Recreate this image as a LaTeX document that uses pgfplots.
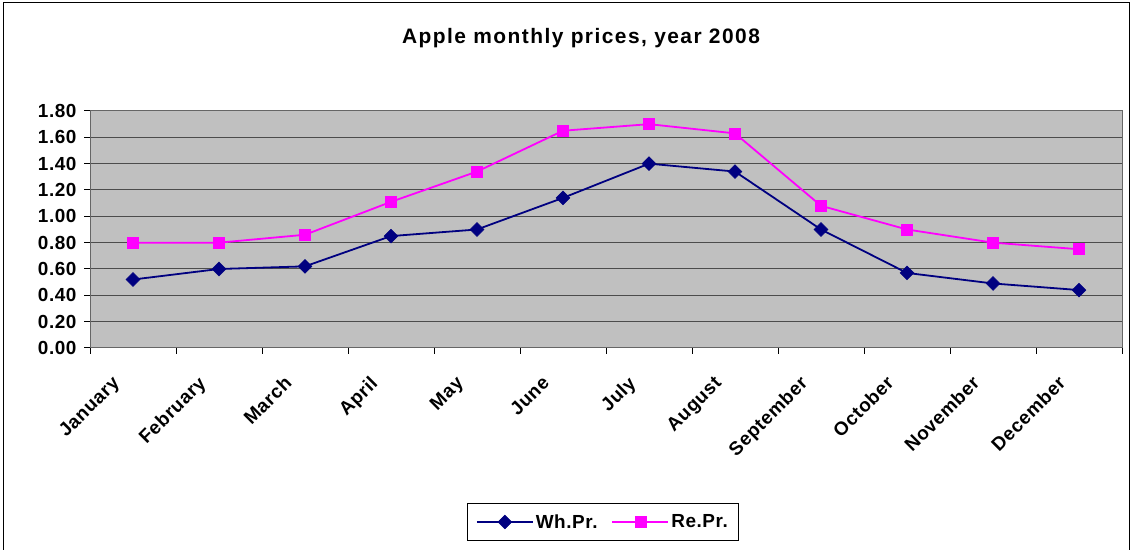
\documentclass[border=0pt]{standalone}
\usepackage{pgfplots}
\pgfplotsset{compat=1.18}
\usepackage{fontspec}
\setmainfont{Liberation Sans}
\definecolor{navyc}{HTML}{000080}
\definecolor{magc}{HTML}{FF00FF}
\definecolor{plotbg}{HTML}{C0C0C0}
\newcommand{\tfont}{\bfseries\fontsize{21}{24}\selectfont\addfontfeature{LetterSpace=7}}
\newcommand{\lfont}{\bfseries\fontsize{19}{22}\selectfont\addfontfeature{LetterSpace=3}}
\begin{document}
\begin{tikzpicture}[x=1bp,y=1bp]
\useasboundingbox (0,0) rectangle (1132,550);
\draw[black, line width=1bp] (3,-10) -- (3,547) -- (1129,547) -- (1129,-10);
\node[font=\tfont] at (581,512) {Apple monthly prices, year 2008};
\begin{axis}[
  at={(90bp,202bp)}, anchor=south west,
  scale only axis, width=1032bp, height=237bp,
  xmin=-0.5, xmax=11.5, ymin=0, ymax=1.8,
  axis background/.style={fill=plotbg},
  axis line style={draw=gray!80!black, line width=1bp},
  xtick={-0.5,0.5,...,11.5}, xticklabels={},
  extra x ticks={0,1,2,3,4,5,6,7,8,9,10,11},
  extra x tick labels={January,February,March,April,May,June,July,August,September,October,November,December},
  extra x tick style={major tick length=0pt, tick style={draw=none}},
  x tick label style={xshift=-22bp, yshift=-22bp, rotate=45, anchor=north east, font=\lfont},
  ytick={0,0.2,...,1.8},
  ymajorgrids, grid style={black!70, line width=1bp},
  y tick label style={font=\lfont, /pgf/number format/.cd, fixed, fixed zerofill, precision=2, assume math mode=true},
  yticklabel shift=4bp,
  tick align=outside, major tick length=6bp,
  tick style={black, line width=1bp},
  xtick pos=bottom, ytick pos=left,
  legend style={at={(0.497,-0.734)}, anchor=center, legend columns=2, draw=black, line width=0.8bp,
    font=\lfont, inner xsep=9bp, inner ysep=9bp,
    /tikz/every even column/.append style={column sep=12bp}},
  legend image code/.code={
    \draw[#1, mark repeat=2, mark phase=2] plot coordinates {(0bp,0bp) (28bp,0bp) (56bp,0bp)};
  },
]
\addplot[navyc, line width=1.8bp, mark=square*, mark size=4.9bp, mark options={fill=navyc, rotate=45, line width=0.5bp}] coordinates {
(0,0.52) (1,0.60) (2,0.62) (3,0.85) (4,0.90) (5,1.14) (6,1.40) (7,1.34) (8,0.90) (9,0.57) (10,0.49) (11,0.44)};
\addlegendentry{Wh.Pr.}
\addplot[magc, line width=1.8bp, mark=square*, mark size=5.5bp, mark options={fill=magc, line width=0.5bp}] coordinates {
(0,0.80) (1,0.80) (2,0.86) (3,1.11) (4,1.34) (5,1.65) (6,1.70) (7,1.63) (8,1.08) (9,0.90) (10,0.80) (11,0.75)};
\addlegendentry{Re.Pr.}
\end{axis}
\end{tikzpicture}
\end{document}
